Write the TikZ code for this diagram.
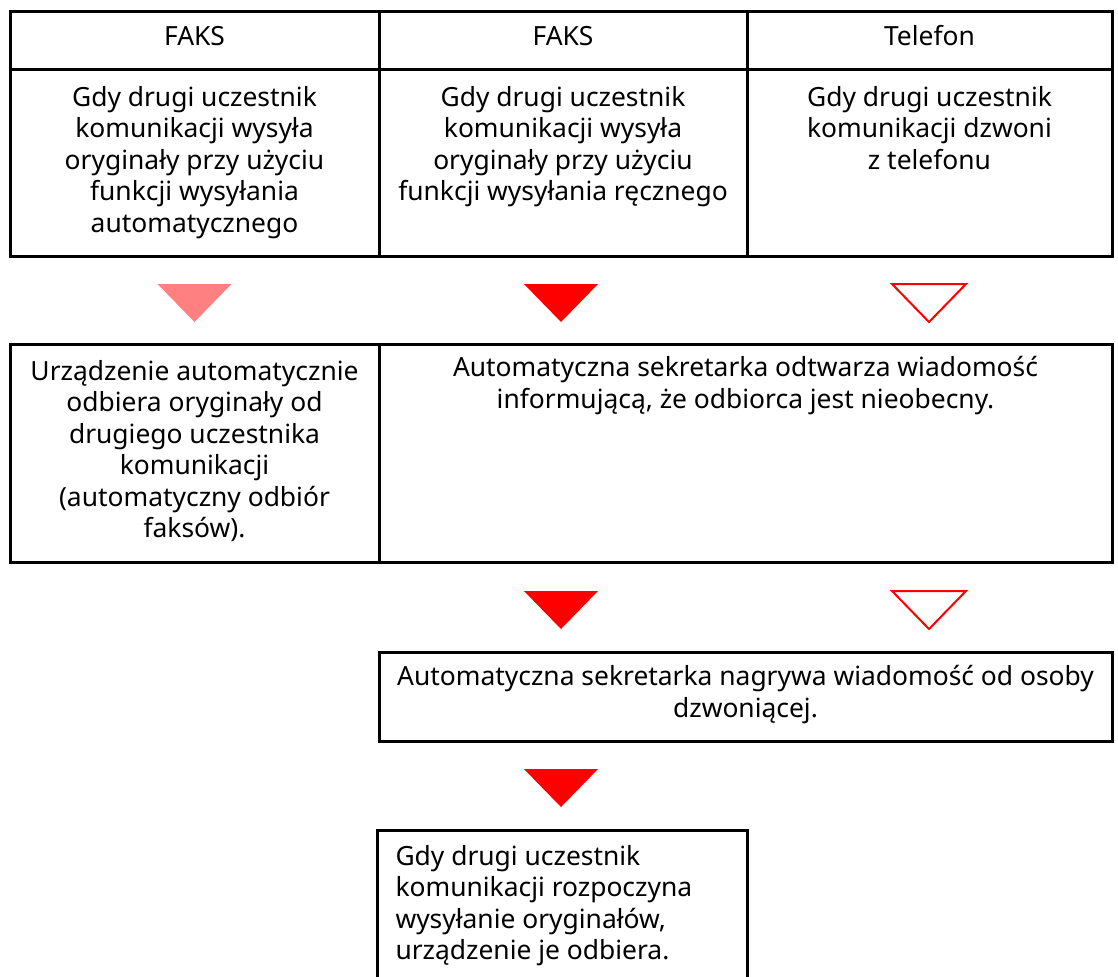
\documentclass[tikz,border=0pt]{standalone}
\usepackage{fontspec}
\setmainfont{Noto Sans}
\usetikzlibrary{positioning}

\tikzset{
  txt/.style={inner sep=0pt, align=center, font=\fontsize{13.2}{15.7}\selectfont},
  pics/pfeil/.style={code={\path[pic actions] (-37,0) -- (37,0) -- (0,38) -- cycle;}}
}

\begin{document}
\begin{tikzpicture}[x=0.5pt, y=-0.5pt, line width=1.5pt]
    \useasboundingbox (0,0) rectangle (1118,976);

    % Tabela
    \draw (10,11) rectangle (1112,256);
    \draw (10,69) -- (1112,69);
    \draw (379,11) -- (379,256);
    \draw (747,11) -- (747,256);

    % Naglowki
    \node[txt] (faks1) at (194.5,36) {FAKS};
    \node[txt] (faks2) at (563,36) {FAKS};
    \node[txt] (tel) at (929.5,36) {Telefon};

    % Opisy
    \node[txt, anchor=north] (auto) at (194.5,85)
        {Gdy drugi uczestnik\\komunikacji wysyła\\oryginały przy użyciu\\funkcji wysyłania\\automatycznego};
    \node[txt, anchor=north] (reczny) at (563,85)
        {Gdy drugi uczestnik\\komunikacji wysyła\\oryginały przy użyciu\\funkcji wysyłania ręcznego};
    \node[txt, anchor=north] (dzwoni) at (929.5,85)
        {Gdy drugi uczestnik\\komunikacji dzwoni\\z telefonu};

    % Strzalki
    \pic[fill=red!50] at (194.5,284) {pfeil};
    \pic[fill=red] at (561,284) {pfeil};
    \pic[draw=red, line width=1pt] at (929,284) {pfeil};

    % Drugi wiersz
    \draw (10,344) rectangle (1112,562);
    \draw (379,344) -- (379,562);
    \node[txt, anchor=north] (odbior) at (194.5,359)
        {Urządzenie automatycznie\\odbiera oryginały od\\drugiego uczestnika\\komunikacji\\(automatyczny odbiór\\faksów).};
    \node[txt, anchor=north] (odtwarza) at (745.5,355)
        {Automatyczna sekretarka odtwarza wiadomość\\informującą, że odbiorca jest nieobecny.};

    \pic[fill=red] at (561,591) {pfeil};
    \pic[draw=red, line width=1pt] at (929,591) {pfeil};

    % Trzeci wiersz
    \draw (379,652) rectangle (1112,741);
    \node[txt, anchor=north] (nagrywa) at (745.5,664)
        {Automatyczna sekretarka nagrywa wiadomość od osoby\\dzwoniącej.};

    \pic[fill=red] at (561,769) {pfeil};

    % Czwarty wiersz
    \draw (377,995) -- (377,830) -- (747,830) -- (747,995);
    \node[txt, align=left, anchor=north west] (wysyla) at (394,844)
        {Gdy drugi uczestnik\\komunikacji rozpoczyna\\wysyłanie oryginałów,\\urządzenie je odbiera.};
\end{tikzpicture}
\end{document}
